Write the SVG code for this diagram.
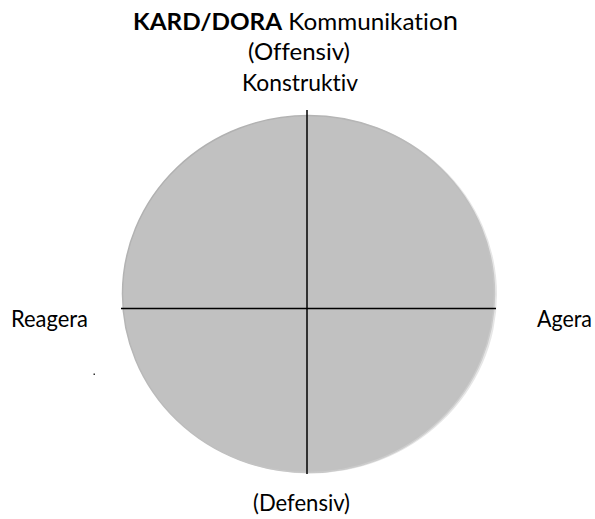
<svg xmlns="http://www.w3.org/2000/svg" width="595" height="519" viewBox="0 0 595 519">
<style>
  .t { font-family: Lato, "Open Sans", "Liberation Sans", sans-serif; font-size: 23px; fill: #000; font-variant-ligatures: none; font-feature-settings: "liga" 0; }
  .axis { stroke: #000; stroke-width: 1.5; fill: none; }
</style>
<defs>
  <linearGradient id="rim" x1="0" y1="0" x2="1" y2="1">
    <stop offset="0" stop-color="#acacac"/>
    <stop offset="0.6" stop-color="#bfbfbf"/>
    <stop offset="1" stop-color="#d6d6d6"/>
  </linearGradient>
</defs>
<rect width="595" height="519" fill="#fff"/>
<g id="circle">
  <ellipse cx="310" cy="294.5" rx="187" ry="179" fill="#e6e6e6"/>
  <ellipse cx="308.5" cy="294" rx="186" ry="178.5" fill="#c1c1c1" stroke="url(#rim)" stroke-width="1.5"/>
</g>
<g id="connectors">
  <line class="axis" x1="307" y1="110" x2="307" y2="474"/>
  <line class="axis" x1="121" y1="308.5" x2="496" y2="308.5"/>
</g>
<g id="title">
  <text class="t" x="133" y="30" textLength="325" lengthAdjust="spacingAndGlyphs"><tspan font-weight="bold">KARD/DORA</tspan> Kommunikatio<tspan font-size="26px">n</tspan></text>
</g>
<g id="top-label">
  <text class="t" x="248" y="60" textLength="102" lengthAdjust="spacingAndGlyphs">(Offensiv)</text>
  <text class="t" x="242" y="90.5" textLength="116" lengthAdjust="spacingAndGlyphs">Konstruktiv</text>
</g>
<g id="left-label">
  <text class="t" x="11" y="327" textLength="77" lengthAdjust="spacingAndGlyphs">Reagera</text>
</g>
<g id="right-label">
  <text class="t" x="537" y="327" textLength="55" lengthAdjust="spacingAndGlyphs">Agera</text>
</g>
<g id="bottom-label">
  <text class="t" x="253" y="511" textLength="97" lengthAdjust="spacingAndGlyphs">(Defensiv)</text>
</g>
<rect x="93.5" y="373.5" width="1.5" height="1.5" fill="#333"/>
</svg>
